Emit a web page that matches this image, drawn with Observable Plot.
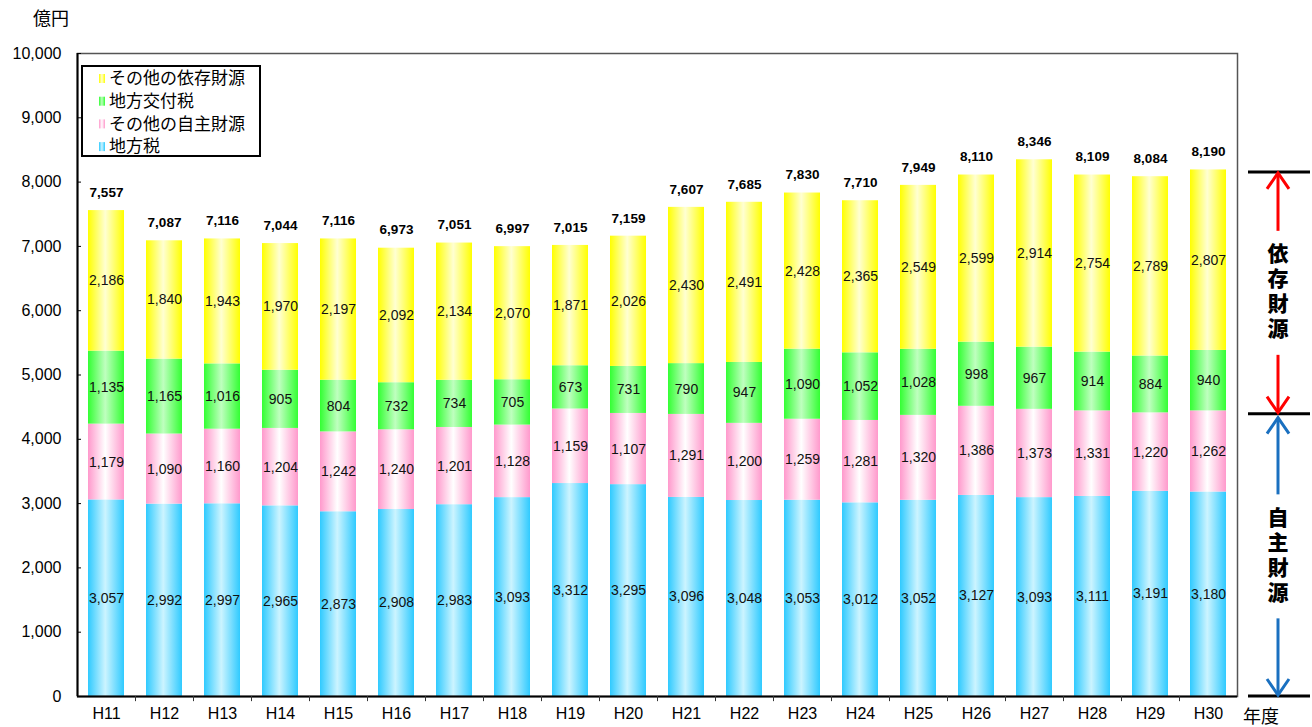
<!DOCTYPE html>
<html>
<head>
<meta charset="utf-8">
<script src="https://cdn.jsdelivr.net/npm/d3@7"></script>
<script src="https://cdn.jsdelivr.net/npm/@observablehq/plot@0.6"></script>
<style>
  html, body { margin: 0; padding: 0; background: #fff; }
</style>
</head>
<body>
<div id="chart"></div>
<script>
// ---- data ----
const years = ["H11","H12","H13","H14","H15","H16","H17","H18","H19","H20","H21","H22","H23","H24","H25","H26","H27","H28","H29","H30"];
const localTax  = [3057,2992,2997,2965,2873,2908,2983,3093,3312,3295,3096,3048,3053,3012,3052,3127,3093,3111,3191,3180];
const otherOwn  = [1179,1090,1160,1204,1242,1240,1201,1128,1159,1107,1291,1200,1259,1281,1320,1386,1373,1331,1220,1262];
const grantTax  = [1135,1165,1016,905,804,732,734,705,673,731,790,947,1090,1052,1028,998,967,914,884,940];
const otherDep  = [2186,1840,1943,1970,2197,2092,2134,2070,1871,2026,2430,2491,2428,2365,2549,2599,2914,2754,2789,2807];
const totals    = [7557,7087,7116,7044,7116,6973,7051,6997,7015,7159,7607,7685,7830,7710,7949,8110,8346,8109,8084,8190];
const seriesKeys  = ["tax","own","grant","dep"];
const seriesNames = ["地方税","その他の自主財源","地方交付税","その他の依存財源"];
const seriesValues = [localTax, otherOwn, grantTax, otherDep];
const yTicks = [0,1000,2000,3000,4000,5000,6000,7000,8000,9000,10000];
const annotLevels = [8150, 4390, 0];
const annotLabels = ["依存財源","自主財源"];
const yUnit = "億円";
const xUnit = "年度";

// ---- styles ----
const edgeColors   = {tax:"#2fcaff", own:"#ff99cc", grant:"#33ff33", dep:"#ffff00"};
const centerColors = {tax:"#ccf4ff", own:"#ffffff", grant:"#bfffbf", dep:"#ffffd2"};
const FONT = "'Liberation Sans', Arial, 'Noto Sans CJK JP', sans-serif";
const JFONT = "'Noto Sans CJK JP', sans-serif";

const fmt = d3.format(",");
const long = [];
years.forEach((yr, i) => seriesKeys.forEach((k, s) => long.push({year: yr, key: k, value: seriesValues[s][i]})));

const chart = Plot.plot({
  width: 1312, height: 727,
  marginLeft: 77, marginRight: 75, marginTop: 53, marginBottom: 31,
  style: {fontFamily: FONT, fontSize: "14px", background: "white", color: "black"},
  x: {type: "band", domain: years, paddingInner: 0.375, paddingOuter: 0.1875, label: null},
  y: {domain: [0, 10000], label: null},
  color: {type: "identity"},
  marks: [
    Plot.barY(long, Plot.stackY({x: "year", y: "value", fill: d => `url(#grad-${d.key})`})),
    Plot.text(long, Plot.stackY({x: "year", y: "value", text: d => fmt(d.value), fontSize: 14, fill: "#111"})),
    Plot.text(years, {x: d => d, y: (d, i) => totals[i], text: (d, i) => fmt(totals[i]), dy: -18, fontWeight: "bold", fontSize: 13.5}),
    Plot.frame({stroke: "#555", strokeWidth: 1.5}),
    Plot.ruleY([0], {stroke: "black", strokeWidth: 2}),
    Plot.ruleX([years[0]], {y1: 0, y2: 10000, dx: -29, stroke: "black", strokeWidth: 2}),
    Plot.ruleX(years.slice(1), {y1: 0, y2: -80, dx: -29, stroke: "#333"}),
    Plot.axisY({ticks: yTicks, tickFormat: fmt, tickSize: -4, tickPadding: 20, fontSize: 16, label: null}),
    Plot.axisX({tickSize: 0, tickPadding: 11, fontSize: 16, label: null})
  ]
});

document.getElementById("chart").appendChild(chart);

const svg = d3.select(chart);
const defs = svg.insert("defs", ":first-child");
seriesKeys.forEach(k => {
  const g = defs.append("linearGradient").attr("id", `grad-${k}`)
    .attr("x1", "0").attr("x2", "1").attr("y1", "0").attr("y2", "0");
  g.append("stop").attr("offset", "0").attr("stop-color", edgeColors[k]);
  g.append("stop").attr("offset", "0.48").attr("stop-color", centerColors[k]);
  g.append("stop").attr("offset", "1").attr("stop-color", edgeColors[k]);
});

const yS = chart.scale("y");
const Y = v => yS.apply(v);

// unit labels
svg.append("text").attr("x", 33).attr("y", 25).attr("text-anchor", "start")
  .attr("font-family", JFONT).attr("font-size", 18).attr("fill", "black").text(yUnit);
svg.append("text").attr("x", 1243).attr("y", 723).attr("text-anchor", "start")
  .attr("font-family", JFONT).attr("font-size", 18).attr("fill", "black").text(xUnit);

// legend
const lg = svg.append("g");
lg.append("rect").attr("x", 82).attr("y", 66).attr("width", 178).attr("height", 90)
  .attr("fill", "white").attr("stroke", "black").attr("stroke-width", 2);
[3, 2, 1, 0].forEach((s, row) => {
  const cy = 78 + row * 22.7;
  lg.append("rect").attr("x", 99).attr("y", cy - 4).attr("width", 6).attr("height", 9).attr("fill", `url(#grad-${seriesKeys[s]})`);
  lg.append("text").attr("x", 109).attr("y", cy).attr("dy", "0.36em").attr("text-anchor", "start")
    .attr("font-family", JFONT).attr("font-size", 17).attr("fill", "black").text(seriesNames[s]);
});

// right-hand annotation
const ax = 1278;
const an = svg.append("g");
annotLevels.forEach(v => {
  an.append("line").attr("x1", 1248).attr("x2", 1310).attr("y1", Y(v)).attr("y2", Y(v))
    .attr("stroke", "black").attr("stroke-width", 3);
});
function arrow(yTip, yTail, color) {
  const dir = yTail > yTip ? 1 : -1;
  an.append("line").attr("x1", ax).attr("x2", ax).attr("y1", yTail).attr("y2", yTip + dir * 1)
    .attr("stroke", color).attr("stroke-width", 3);
  an.append("path").attr("d", `M${ax - 11},${yTip + dir * 17}L${ax},${yTip + dir * 1}L${ax + 11},${yTip + dir * 17}`)
    .attr("fill", "none").attr("stroke", color).attr("stroke-width", 3);
}
const colors = ["#ff0000", "#1a70c0"];
annotLabels.forEach((label, j) => {
  const top = Y(annotLevels[j]) + (j === 1 ? 3 : 0), bot = Y(annotLevels[j + 1]);
  const mid = (top + bot) / 2;
  arrow(top, mid - 62, colors[j]);
  arrow(bot, mid + 62, colors[j]);
  an.append("text").attr("x", ax).attr("y", mid)
    .attr("writing-mode", "vertical-rl").attr("text-anchor", "middle")
    .attr("letter-spacing", 4)
    .attr("font-family", JFONT).attr("font-weight", 900).attr("font-size", 21).attr("fill", "black").text(label);
});
</script>
</body>
</html>
